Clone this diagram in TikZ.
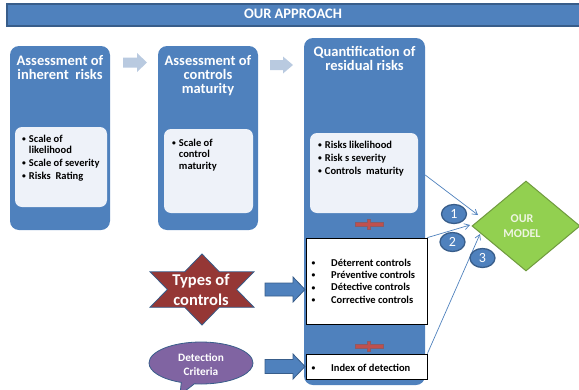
\documentclass[tikz,border=0pt]{standalone}
\usepackage{fontspec}
\usepackage{graphicx}
\setmainfont{Carlito}
\usetikzlibrary{shapes.geometric,shapes.callouts,arrows.meta,calc}

\definecolor{accent}{HTML}{4F81BD}
\definecolor{accentdark}{HTML}{385D8A}
\definecolor{panel}{HTML}{EEF2F9}
\definecolor{lightarrow}{HTML}{B9CAE0}
\definecolor{starred}{HTML}{953735}
\definecolor{calloutpurple}{HTML}{8064A2}
\definecolor{modelgreen}{HTML}{92D050}
\definecolor{modeldraw}{HTML}{6F9A3E}
\definecolor{modeltext}{HTML}{EEF5E2}
\definecolor{plusred}{HTML}{C0504D}
\definecolor{plusdraw}{HTML}{8C5A64}

% small list bullet
\newcommand{\listdot}{\raisebox{0.9pt}{\scalebox{0.72}{•}}}

\tikzset{
  column/.style={fill=accent, rounded corners=9pt, inner sep=0pt},
  panelbox/.style={fill=panel, rounded corners=7pt, inner sep=0pt},
  listbox/.style={fill=white, draw=black, line width=0.8pt, inner sep=0pt},
  coltitle/.style={text=white, inner sep=0pt, anchor=base,
    font=\fontsize{14.5}{14.4}\selectfont\bfseries},
  bullets/.style={text=black, inner sep=0pt, anchor=base west,
    font=\fontsize{10.5}{11.5}\selectfont\bfseries},
  numbadge/.style={ellipse, fill=accent, draw=accentdark, line width=1.3pt,
    minimum width=25pt, minimum height=19pt, inner sep=0pt, text=white,
    font=\fontsize{14}{14}\selectfont},
  link/.style={draw=accent, line width=0.7pt,
    -{Straight Barb[length=5pt,width=6pt]}},
  flatarrow/.style={fill=lightarrow},
  blockarrow/.style={fill=accent, draw=accentdark, line width=0.8pt},
  plusmark/.pic={
    \path[fill=plusred, draw=plusdraw, line width=0.5pt]
      (-14,-2) -- (-1.7,-2) -- (-1.7,-5) -- (1.7,-5) -- (1.7,-2) -- (14,-2)
      -- (14,2) -- (1.7,2) -- (1.7,5) -- (-1.7,5) -- (-1.7,2) -- (-14,2) -- cycle;
  }
}

\begin{document}
\begin{tikzpicture}[x=1pt,y=-1pt]
\useasboundingbox (0,0) rectangle (579,389);

% heading bar
\node[fill=accent, draw=accentdark, line width=1.5pt, minimum width=580pt,
  minimum height=22pt, inner sep=0pt] (bar) at (297,15) {};
\node[text=white, inner sep=0pt, font=\fontsize{14.5}{14.5}\selectfont\bfseries]
  (heading) at (293,14) {OUR APPROACH};

% the three stage columns
\node[column, minimum width=100pt, minimum height=184pt] (col1) at (60,138) {};
\node[column, minimum width=100pt, minimum height=184pt] (col2) at (208,138) {};
\node[column, minimum width=121pt, minimum height=347pt] (col3) at (364.5,211.5) {};

% light panels inside the columns
\node[panelbox, minimum width=92pt, minimum height=80pt] (pan1) at (61,167) {};
\node[panelbox, minimum width=89pt, minimum height=84pt] (pan2) at (208.5,171) {};
\node[panelbox, minimum width=108pt, minimum height=80pt] (pan3) at (364,173) {};

% plus marks between the blocks of the third column
\pic at (369,224.5) {plusmark};
\pic at (369,346) {plusmark};

% white boxes on the third column
\node[listbox, minimum width=121pt, minimum height=86pt] (typesbox) at (366.5,281) {};
\node[listbox, minimum width=121pt, minimum height=25pt] (indexbox) at (366.5,366.5) {};

% column titles
\node[coltitle] (title1) at (60,65)
  {\begin{tabular}[t]{@{}c@{}}Assessment of\\inherent\ \ risks\end{tabular}};
\node[coltitle] (title2) at (208,65)
  {\begin{tabular}[t]{@{}c@{}}Assessment of\\controls\\maturity\end{tabular}};
\node[coltitle] (title3) at (364.5,56)
  {\begin{tabular}[t]{@{}c@{}}Quantification of\\residual risks\end{tabular}};

% bullet lists
\node[bullets] (list1) at (22,142)
  {\begin{tabular}[t]{@{}l@{\hspace{3pt}}l@{}}
   \listdot&Scale of\\&likelihood\\[1.5pt]
   \listdot&Scale of severity\\[1pt]
   \listdot&Risks\ \ Rating\end{tabular}};
\node[bullets] (list2) at (172,146)
  {\begin{tabular}[t]{@{}l@{\hspace{3pt}}l@{}}
   \listdot&Scale of\\&control\\&maturity\end{tabular}};
\node[bullets] (list3) at (318,148)
  {\begin{tabular}[t]{@{}l@{\hspace{3pt}}l@{}}
   \listdot&Risks likelihood\\[1.5pt]
   \listdot&Risk s severity\\[1.5pt]
   \listdot&Controls\ \ maturity\end{tabular}};
\node[bullets, font=\fontsize{10.5}{12.2}\selectfont\bfseries] (list4) at (311.5,266.5)
  {\begin{tabular}[t]{@{}l@{\hspace{15.7pt}}l@{}}
   \listdot&Déterrent controls\\
   \listdot&Préventive controls\\
   \listdot&Détective controls\\
   \listdot&Corrective controls\end{tabular}};
\node[bullets] (list5) at (311.5,371)
  {\begin{tabular}[t]{@{}l@{\hspace{15.7pt}}l@{}}\listdot&Index of detection\end{tabular}};

% arrows between the stages
\path[flatarrow] (123,57.5) -- (137,57.5) -- (137,53) -- (147,62.5)
  -- (137,72) -- (137,67.5) -- (123,67.5) -- cycle;
\path[flatarrow] (270,60) -- (283,60) -- (283,56.5) -- (293,65)
  -- (283,73.5) -- (283,70) -- (270,70) -- cycle;

% six-pointed star
\path[fill=starred, draw=accentdark, line width=0.8pt]
  (202,254) -- (219.3,271.75) -- (254,271.75) -- (236.6,289.5)
  -- (254,307.25) -- (219.3,307.25) -- (202,325) -- (184.7,307.25)
  -- (150,307.25) -- (167.4,289.5) -- (150,271.75) -- (184.7,271.75) -- cycle;
\node[text=white, inner sep=0pt, anchor=base,
  font=\fontsize{16.5}{20.5}\selectfont\bfseries] (types) at (201,285)
  {\begin{tabular}[t]{@{}c@{}}Types of\\controls\end{tabular}};

% block arrows into the white boxes
\path[blockarrow] (265,283) -- (293,283) -- (293,277) -- (305,289.5)
  -- (293,302) -- (293,296) -- (265,296) -- cycle;
\path[blockarrow] (265,359.5) -- (293,359.5) -- (293,354) -- (305,366.5)
  -- (293,379) -- (293,373.5) -- (265,373.5) -- cycle;

% detection criteria callout
\node[ellipse callout, fill=calloutpurple, draw=accentdark, line width=0.8pt,
  minimum width=104pt, minimum height=42pt, inner sep=0pt,
  callout absolute pointer={(180,395)}] (detect) at (201,363) {};
\node[text=white, inner sep=0pt, font=\fontsize{11.3}{14.7}\selectfont\bfseries]
  (detecttext) at (201,365.5)
  {\begin{tabular}{@{}c@{}}Detection\\Criteria\end{tabular}};

% the model
\node[diamond, fill=modelgreen, draw=modeldraw, line width=1pt,
  minimum width=108pt, minimum height=90pt, inner sep=0pt] (model) at (526,226) {};
\node[text=modeltext, inner sep=0pt, anchor=base,
  font=\fontsize{12}{14.5}\selectfont\bfseries] (modellabel) at (522,222.5)
  {\begin{tabular}[t]{@{}c@{}}OUR\\MODEL\end{tabular}};

% inputs of the model
\coordinate (tip1) at (478,215);
\coordinate (tip2) at (470,225);
\coordinate (tip3) at (480,234);
\draw[link] (col3.east |- 0,175) -- (tip1);
\draw[link] (typesbox.north east) -- (tip2);
\draw[link] (indexbox.north east) -- (tip3);

\node[numbadge] (n1) at (454,214) {1};
\node[numbadge] (n2) at (452.5,242) {2};
\node[numbadge] (n3) at (482.5,258) {3};
\end{tikzpicture}
\end{document}
